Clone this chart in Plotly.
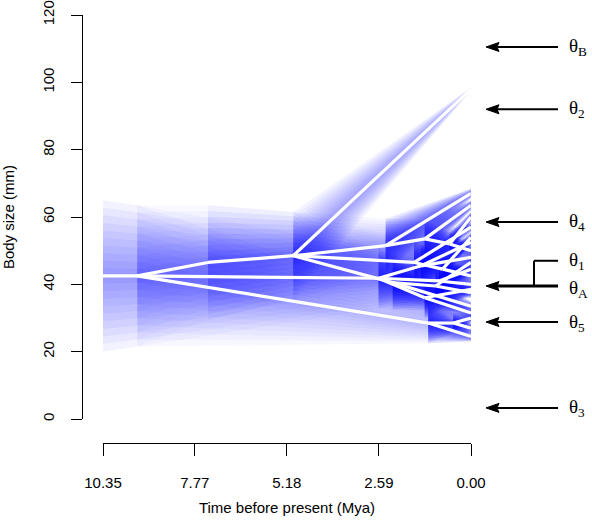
import math
import plotly.graph_objects as go

# ---- tree data ----
node_parent = [-1, 0, 1, 2, 3, 3, 5, 5, 7, 7, 9, 9, 3, 12, 12, 14, 14, 3, 17, 17, 19, 19,
               1, 22, 23, 23, 22, 26, 26, 22, 29, 29, 1, 32, 32, 34, 34]
node_time = [10.35, 9.39, 7.40, 5.00, 0.00, 2.40, 0.00, 1.30, 0.00, 0.60, 0.00, 0.00,
             1.60, 0.00, 0.80, 0.00, 0.00, 2.20, 0.00, 1.00, 0.00, 0.00,
             2.60, 1.40, 0.00, 0.00, 0.90, 0.00, 0.00, 1.30, 0.00, 0.00,
             1.20, 0.00, 0.50, 0.00, 0.00]
node_value = [42.5, 42.5, 46.5, 48.5, 98.0, 51.5, 67.0, 53.5, 63.5, 52.0, 60.0, 50.0,
              46.5, 57.0, 44.5, 54.0, 42.5, 40.5, 33.5, 39.5, 46.5, 37.5,
              41.8, 45.5, 52.5, 48.0, 41.0, 44.5, 40.0, 36.0, 38.5, 31.5,
              28.5, 24.5, 28.5, 30.0, 27.0]
node_spread = [22.5, 21.0, 17.0, 13.0, 0.5, 8.0, 1.5, 5.5, 1.5, 3.5, 1.5, 1.5,
               6.5, 1.5, 4.0, 1.5, 1.5, 8.0, 1.5, 5.0, 1.5, 1.5,
               9.0, 6.0, 1.5, 1.5, 4.5, 1.5, 1.5, 6.0, 1.5, 1.5,
               6.0, 1.5, 3.0, 1.5, 1.5]

tick_times = [10.35, 7.77, 5.18, 2.59, 0.00]
tick_labels = ["10.35", "7.77", "5.18", "2.59", "0.00"]
y_ticks = [0, 20, 40, 60, 80, 100, 120]

theta_names = ["θ<sub>B</sub>", "θ<sub>2</sub>", "θ<sub>4</sub>", "θ<sub>1</sub>",
               "θ<sub>A</sub>", "θ<sub>5</sub>", "θ<sub>3</sub>"]
theta_label_y = [110.5, 92.0, 58.5, 47.0, 38.5, 28.5, 3.3]
arrow_values = [110.5, 92.0, 58.5, 39.5, 28.8, 3.3]
arrow_widths = [2, 2, 2, 3, 2, 2]
theta1_value = 47.0
thetaA_value = 39.5

layer_scales = [1.0, 0.9, 0.8, 0.7, 0.6, 0.5, 0.4, 0.3, 0.2, 0.1]

n_children = [node_parent.count(i) for i in range(len(node_parent))]

fig = go.Figure()

# uncertainty bands (wider band -> fainter; shared among sister branches)
for i, p in enumerate(node_parent):
    if p < 0:
        continue
    t0, v0, s0 = node_time[p], node_value[p], node_spread[p]
    t1, v1, s1 = node_time[i], node_value[i], node_spread[i]
    base = min(0.22, 0.5 / ((s0 + s1) / 2) ** 0.75)
    a = base / (max(n_children[p], 1) ** 0.75)
    for k in layer_scales:
        fig.add_trace(go.Scatter(
            x=[t0, t1, t1, t0, t0],
            y=[v0 + k * s0, v1 + k * s1, v1 - k * s1, v0 - k * s0, v0 + k * s0],
            mode="lines", fill="toself",
            fillcolor=f"rgba(10,10,255,{a:.4f})",
            line=dict(width=0), hoverinfo="skip", showlegend=False))

# tree branches
bx, by = [], []
for i, p in enumerate(node_parent):
    if p < 0:
        continue
    bx += [node_time[p], node_time[i], None]
    by += [node_value[p], node_value[i], None]
fig.add_trace(go.Scatter(x=bx, y=by, mode="lines",
                         line=dict(color="white", width=3.2),
                         hoverinfo="skip", showlegend=False))

W, H = 592, 521
ml, mr, mt, mb = 82, 0, 15, 78
pw = W - ml - mr
ph = H - mt - mb
Y_PER_PX = 20.0 / 67.33


def px_x(px):
    return (px - ml) / pw


def px_y(py):
    return (H - mb - py) / ph


shapes = []
for v, w in zip(arrow_values, arrow_widths):
    shapes.append(dict(type="line", xref="paper", yref="y",
                       x0=px_x(495), x1=px_x(558), y0=v, y1=v,
                       line=dict(color="black", width=w)))
    hh = 4.5 * Y_PER_PX
    shapes.append(dict(type="path", xref="paper", yref="y",
                       path=f"M {px_x(486)} {v} L {px_x(499)} {v + hh} "
                            f"L {px_x(497)} {v} L {px_x(499)} {v - hh} Z",
                       fillcolor="black", line=dict(color="black", width=1)))
shapes += [
    dict(type="line", xref="paper", yref="y", x0=px_x(534), x1=px_x(558),
         y0=theta1_value, y1=theta1_value, line=dict(color="black", width=2)),
    dict(type="line", xref="paper", yref="y", x0=px_x(534), x1=px_x(534),
         y0=thetaA_value, y1=theta1_value, line=dict(color="black", width=2)),
]

annotations = []
for name, v in zip(theta_names, theta_label_y):
    annotations.append(dict(x=px_x(567), y=v, xref="paper", yref="y", text=name,
                            showarrow=False, xanchor="left", yanchor="middle",
                            font=dict(family="Liberation Serif", size=19, color="black")))

fig.update_layout(
    width=W, height=H,
    margin=dict(l=ml, r=mr, t=mt, b=mb),
    plot_bgcolor="white", paper_bgcolor="white",
    font=dict(family="Liberation Sans", size=15, color="black"),
    annotations=annotations, shapes=shapes,
    xaxis=dict(domain=[px_x(103), px_x(471)], range=[10.35, 0.0],
               anchor="free", position=0, automargin=False,
               showline=True, linecolor="black", linewidth=1,
               ticks="outside", ticklen=12, tickwidth=1, tickcolor="black",
               tickvals=tick_times, ticktext=tick_labels,
               ticklabelstandoff=14, ticklabeloverflow="allow",
               showgrid=False, zeroline=False,
               title=dict(text="Time before present (Mya)", standoff=12,
                          font=dict(size=15))),
    yaxis=dict(domain=[px_y(419), 1.0], range=[0, 120],
               anchor="free", position=0, automargin=False,
               showline=True, linecolor="black", linewidth=1,
               ticks="outside", ticklen=11, tickwidth=1, tickcolor="black",
               tickvals=y_ticks, tickangle=-90, ticklabelstandoff=11,
               ticklabeloverflow="allow",
               showgrid=False, zeroline=False,
               title=dict(text="Body size (mm)", standoff=20,
                          font=dict(size=15))),
)

# the page body has a default 8px margin; remove it so the figure sits at (0, 0)
fig.write_html("out.html", config={"displayModeBar": False},
               post_script="document.body.style.margin='0';")
